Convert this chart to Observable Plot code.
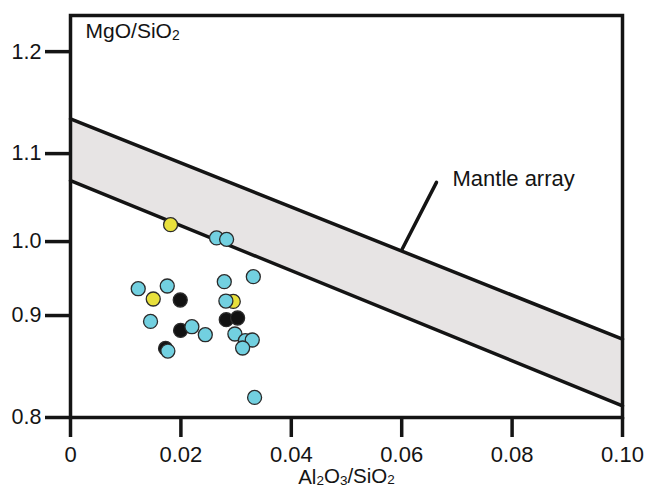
<!DOCTYPE html>
<html>
<head>
<meta charset="utf-8">
<script src="https://cdn.jsdelivr.net/npm/d3@7"></script>
<script src="https://cdn.jsdelivr.net/npm/@observablehq/plot@0.6"></script>
<style>
  html, body { margin: 0; padding: 0; background: white; }
  #chart { width: 649px; height: 489px; }
</style>
</head>
<body>
<div id="chart"></div>
<script>
// ---- Data ----
const xTicks = [0, 0.02, 0.04, 0.06, 0.08, 0.10];
const xTickLabels = ["0", "0.02", "0.04", "0.06", "0.08", "0.10"];
const yTicks = [0.8, 0.9, 1.0, 1.1, 1.2];
const yTickLabels = ["0.8", "0.9", "1.0", "1.1", "1.2"];

const xTitle = "Al₂O₃/SiO₂";
const yTitle = "MgO/SiO₂";
const bandLabel = "Mantle array";

// Mantle array band (upper and lower bounding lines)
const bandX = [0, 0.10];
const bandUpper = [1.1395, 0.889];
const bandLower = [1.0693, 0.8133];

// Leader line for the "Mantle array" label
const leaderX = [0.0601, 0.0663];
const leaderY = [0.9916, 1.0673];

// Samples
const blackX = [0.01988, 0.02822, 0.03027, 0.01994, 0.01722];
const blackY = [0.9336, 0.9112, 0.9131, 0.8990, 0.8785];

const yellowX = [0.01813, 0.01499, 0.02949];
const yellowY = [1.0192, 0.9347, 0.9320];

const cyanX = [0.02646, 0.02828, 0.01227, 0.01753, 0.02786, 0.03312, 0.02815, 0.0145,
               0.02199, 0.02442, 0.02978, 0.03167, 0.03293, 0.03118, 0.01764, 0.03335];
const cyanY = [1.0041, 1.0025, 0.9464, 0.9495, 0.9544, 0.9601, 0.9324, 0.9092,
               0.9032, 0.8941, 0.8949, 0.8873, 0.8881, 0.8790, 0.8755, 0.8228];

// ---- Build tables ----
const toPts = (xs, ys) => xs.map((x, i) => ({x, y: ys[i]}));
const black = toPts(blackX, blackY);
const yellow = toPts(yellowX, yellowY);
const cyan = toPts(cyanX, cyanY);
const band = bandX.map((x, i) => ({x, hi: bandUpper[i], lo: bandLower[i]}));
const leader = toPts(leaderX, leaderY);

const INK = "#141414";
const LW = 3.5;
const FS = 21;

const yLabelOf = d => yTickLabels[yTicks.indexOf(d)];
const xLabelOf = d => xTickLabels[xTicks.indexOf(d)];
const raised = [yTicks[1], yTicks[4]];
const normal = yTicks.filter(d => !raised.includes(d));

const chart = Plot.plot({
  width: 649,
  height: 489,
  marginLeft: 70,
  marginRight: 27,
  marginTop: 15,
  marginBottom: 72,
  style: {fontFamily: "'Liberation Sans', Arial, sans-serif", fontSize: FS + "px", color: INK, background: "white"},
  x: {domain: [0, 0.10]},
  y: {domain: [0.8, 1.257]},
  marks: [
    Plot.areaY(band, {x: "x", y1: "lo", y2: "hi", fill: "#e7e4e4"}),
    Plot.line(band, {x: "x", y: "hi", stroke: INK, strokeWidth: LW}),
    Plot.line(band, {x: "x", y: "lo", stroke: INK, strokeWidth: LW}),
    Plot.line(leader, {x: "x", y: "y", stroke: INK, strokeWidth: LW}),
    Plot.text([bandLabel], {x: [0.0692], y: [1.0713], text: d => d, textAnchor: "start", lineAnchor: "middle", fontSize: 22, fill: INK}),
    Plot.text([yTitle], {x: [0.00272], y: [1.2388], text: d => d, textAnchor: "start", lineAnchor: "middle", fontSize: FS, fill: INK}),
    Plot.text([xTitle], {x: [0.05], frameAnchor: "bottom", dy: 60, text: d => d, lineAnchor: "middle", fontSize: 20.5, fill: INK}),
    Plot.axisX({ticks: xTicks, tickFormat: xLabelOf, tickSize: 20, tickPadding: 9, strokeWidth: LW, stroke: INK, fontSize: 22, label: null}),
    Plot.axisY({ticks: normal, tickFormat: yLabelOf, tickSize: 25, tickPadding: 4, strokeWidth: LW, stroke: INK, fontSize: 21.5, label: null}),
    Plot.axisY({ticks: raised, tickFormat: yLabelOf, tickSize: 25, tickPadding: 4, strokeWidth: LW, stroke: INK, fontSize: 21.5, label: null, dy: -14}),
    Plot.frame({stroke: INK, strokeWidth: LW}),
    Plot.dot(black, {x: "x", y: "y", r: 7, fill: "#121212", stroke: "#2a2a2a", strokeWidth: 1.3}),
    Plot.dot(yellow, {x: "x", y: "y", r: 7, fill: "#e8e03c", stroke: "#2a2a2a", strokeWidth: 1.3}),
    Plot.dot(cyan, {x: "x", y: "y", r: 7, fill: "#72d0e0", stroke: "#2a2a2a", strokeWidth: 1.3})
  ]
});

// Render Unicode subscript digits as small, lowered digits
const SUB = "₀₁₂₃₄₅₆₇₈₉";
d3.select(chart).selectAll("text, tspan").each(function () {
  if (this.children && this.children.length) return;
  const s = this.textContent;
  if (!/[₀-₉]/.test(s)) return;
  const el = d3.select(this);
  el.text(null);
  let lowered = false;
  for (const ch of s) {
    const i = SUB.indexOf(ch);
    if (i >= 0) {
      el.append("tspan").attr("font-size", "0.66em").attr("dy", lowered ? null : "0.1em").text(String(i));
      lowered = true;
    } else {
      el.append("tspan").attr("dy", lowered ? "-0.1em" : null).text(ch);
      lowered = false;
    }
  }
});

document.getElementById("chart").appendChild(chart);
</script>
</body>
</html>
